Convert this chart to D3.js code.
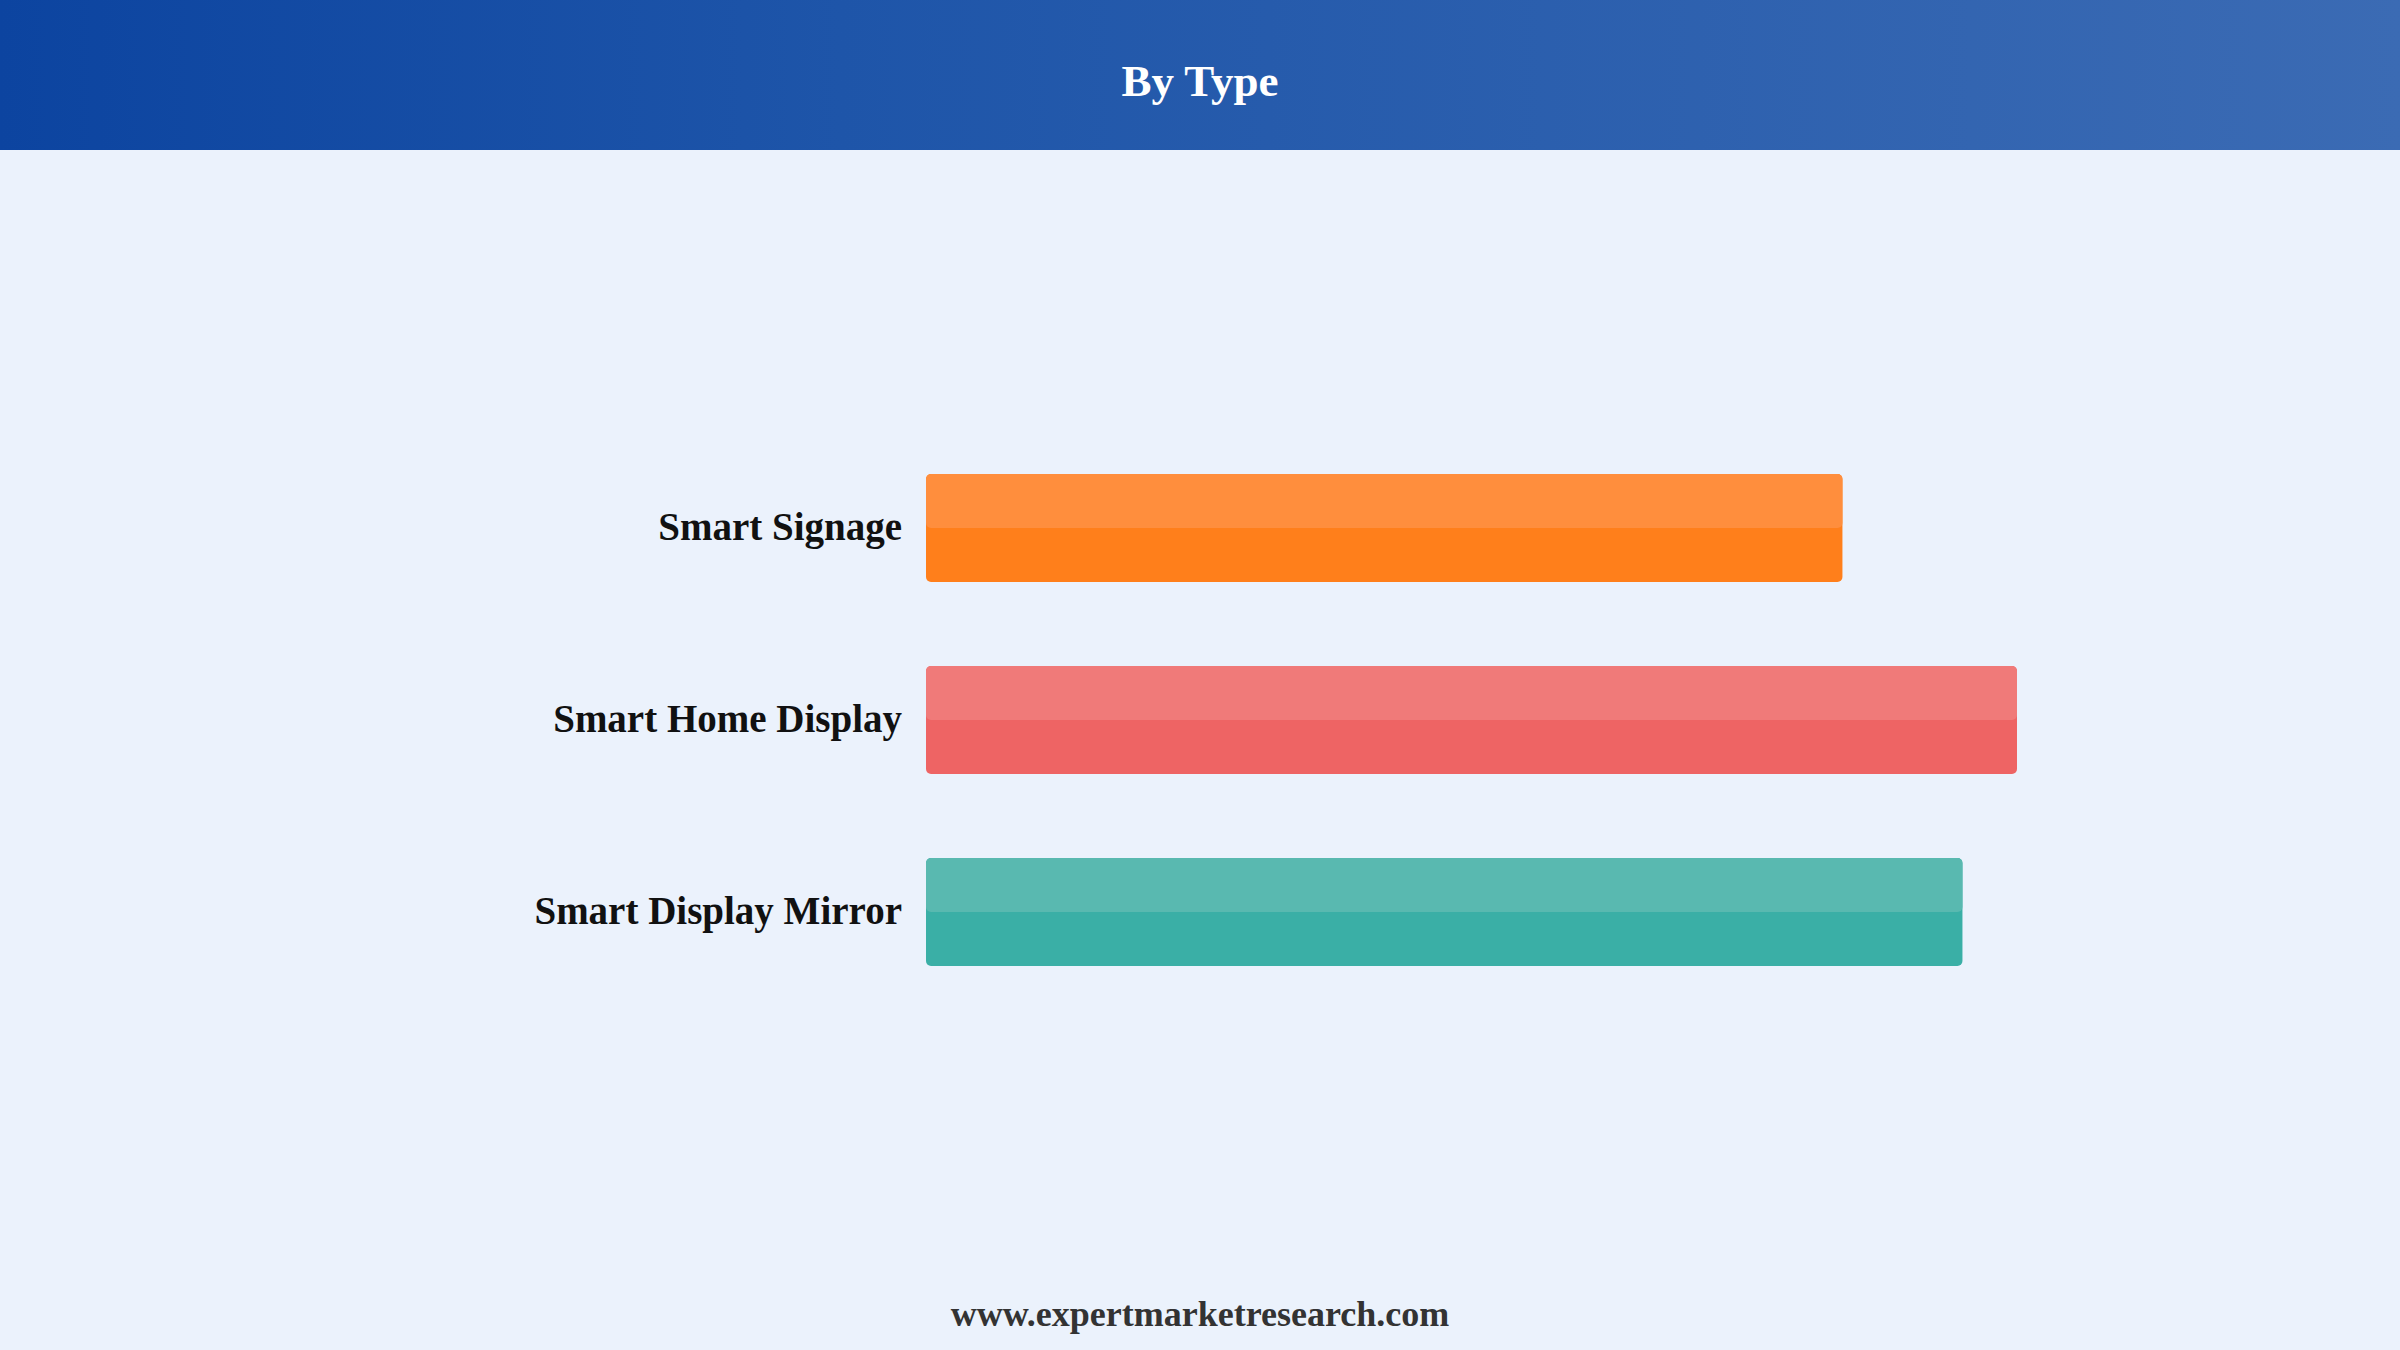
<!DOCTYPE html>
<html>
<head>
<meta charset="utf-8">
<script src="https://cdn.jsdelivr.net/npm/d3@7"></script>
<style>
  html, body { margin: 0; padding: 0; background: #ebf2fc; }
  svg { display: block; }
</style>
</head>
<body>
<svg id="chart" width="2400" height="1350"></svg>
<script>
// data
var categories = ["Smart Signage", "Smart Home Display", "Smart Display Mirror"];
var values = [84, 100, 95];
var baseColors = ["#ff7f1b", "#ee6464", "#3aafa6"];
var topColors = ["#ff8e3d", "#f07a79", "#59b9b0"];
var title = "By Type";
var footer = "www.expertmarketresearch.com";

var W = 2400, H = 1350;

var svg = d3.select("#chart");

var defs = svg.append("defs");
var grad = defs.append("linearGradient").attr("id", "hdr")
  .attr("x1", "0%").attr("x2", "100%").attr("y1", "0%").attr("y2", "0%");
grad.append("stop").attr("offset", "0%").attr("stop-color", "#0c44a0");
grad.append("stop").attr("offset", "35%").attr("stop-color", "#1e55a9");
grad.append("stop").attr("offset", "100%").attr("stop-color", "#3b6bb4");

svg.append("rect").attr("width", W).attr("height", H).attr("fill", "#ebf2fc");
svg.append("rect").attr("width", W).attr("height", 150).attr("fill", "url(#hdr)");

svg.append("text")
  .attr("x", W / 2).attr("y", 96)
  .attr("text-anchor", "middle")
  .attr("font-family", "'Liberation Serif', 'Times New Roman', serif")
  .attr("font-weight", "bold")
  .attr("font-size", 45)
  .attr("fill", "#ffffff")
  .text(title);

// scales
var x = d3.scaleLinear().domain([0, 100]).range([0, 1091]);
var y = d3.scaleBand().domain(categories).range([474, 966]).paddingInner(0.4375).paddingOuter(0);

var g = svg.append("g").attr("transform", "translate(926,0)");

var bars = g.selectAll("g.bar")
  .data(categories)
  .enter().append("g").attr("class", "bar");

bars.append("rect")
  .attr("x", 0)
  .attr("y", function(d) { return y(d); })
  .attr("width", function(d, i) { return x(values[i]); })
  .attr("height", y.bandwidth())
  .attr("rx", 5)
  .attr("fill", function(d, i) { return baseColors[i]; });

bars.append("rect")
  .attr("x", 0)
  .attr("y", function(d) { return y(d); })
  .attr("width", function(d, i) { return x(values[i]); })
  .attr("height", y.bandwidth() / 2)
  .attr("rx", 5)
  .attr("fill", function(d, i) { return topColors[i]; });

// category labels
var yAxis = d3.axisLeft(y).tickSize(0).tickPadding(24);
var ax = g.append("g").call(yAxis);
ax.select(".domain").remove();
ax.selectAll("text")
  .attr("font-family", "'Liberation Serif', 'Times New Roman', serif")
  .attr("font-weight", "bold")
  .attr("font-size", 39)
  .attr("fill", "#111111");

svg.append("text")
  .attr("x", W / 2).attr("y", 1326)
  .attr("text-anchor", "middle")
  .attr("font-family", "'Liberation Serif', 'Times New Roman', serif")
  .attr("font-weight", "bold")
  .attr("font-size", 36)
  .attr("fill", "#333333")
  .text(footer);
</script>
</body>
</html>
